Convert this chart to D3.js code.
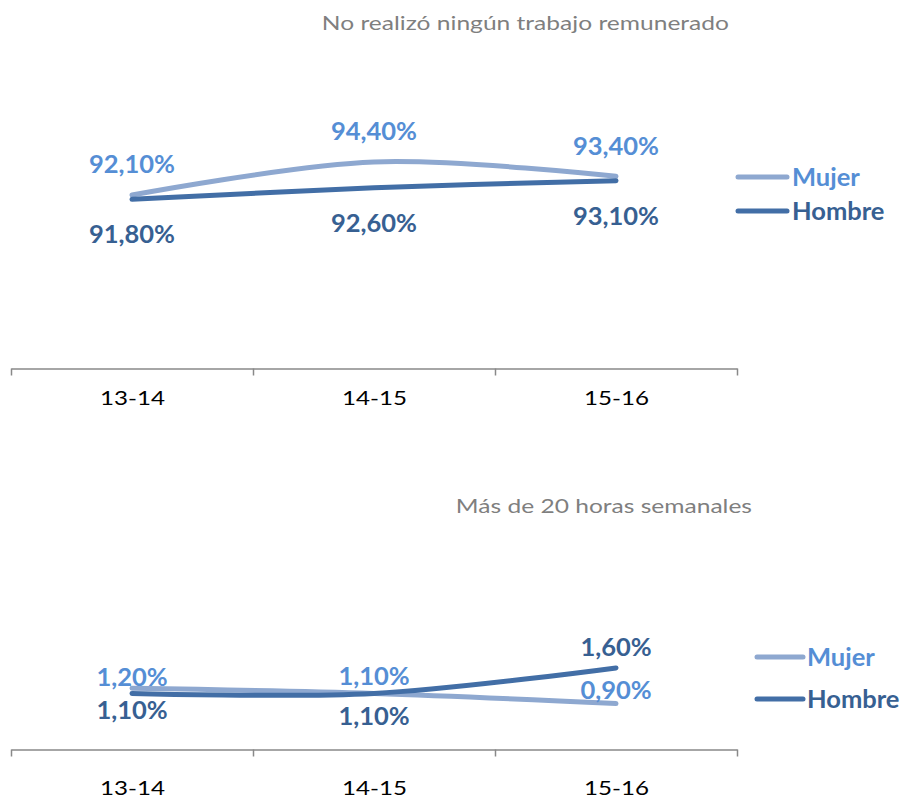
<!DOCTYPE html>
<html>
<head>
    <meta charset="utf-8">
    <title></title>
    <script src="https://d3js.org/d3.v7.min.js"></script>
    <style>
        body { margin: 0; background: #fff; }
        text { font-family: Lato, "Open Sans", sans-serif; }
    </style>
</head>
<body>
    <svg id="chart" width="903" height="798"></svg>

    <script>
    // data
    let categories = ["13-14", "14-15", "15-16"];
    let seriesNames = ["Mujer", "Hombre"];
    let titles = ["No realizó ningún trabajo remunerado", "Más de 20 horas semanales"];
    let noTrabajoMujer = [92.1, 94.4, 93.4];
    let noTrabajoHombre = [91.8, 92.6, 93.1];
    let mas20Mujer = [1.2, 1.1, 0.9];
    let mas20Hombre = [1.1, 1.1, 1.6];

    let colLine = { Mujer: "#8ea8d0", Hombre: "#426ea6" };
    let colText = { Mujer: "#558ed5", Hombre: "#376092" };

    let es = d3.formatLocale({ decimal: ",", thousands: ".", grouping: [3], currency: ["", "€"] });
    let fmt = v => es.format(".2f")(v) + "%";

    let svg = d3.select("#chart");
    svg.append("rect").attr("width", 903).attr("height", 798).attr("fill", "#fff");

    // layout of each panel (label offsets follow the hand-placed labels)
    let panels = [
        { title: titles[0], series: [noTrabajoMujer, noTrabajoHombre],
          domain: [80, 100], range: [368.5, 81.7],
          titleX: 729, titleY: 30, catY: 405,
          legX: [738, 787, 792], legY: [177, 211],
          dy: [[-31, -31, -31], [35, 35, 35]] },
        { title: titles[1], series: [mas20Mujer, mas20Hombre],
          domain: [0, 2], range: [749.5, 647.5],
          titleX: 752, titleY: 513, catY: 795,
          legX: [757, 803, 807], legY: [657, 699],
          dy: [[-11, -18, -14], [16, 22, -21]] }
    ];

    let x = d3.scaleLinear().domain([0, categories.length]).range([11, 737]);

    panels.forEach(p => {
        let y = d3.scaleLinear().domain(p.domain).range(p.range);
        let g = svg.append("g");

        // title
        g.append("text")
            .attr("transform", "translate(" + p.titleX + "," + p.titleY + ") scale(1.26,1)")
            .attr("text-anchor", "end")
            .attr("font-size", 19.5)
            .attr("fill", "#7f7f7f")
            .text(p.title);

        // category axis: ticks on the boundaries
        let ax = g.append("g")
            .attr("transform", "translate(0," + y(p.domain[0]) + ")")
            .call(d3.axisBottom(x).tickValues(d3.range(categories.length + 1))
                .tickFormat("").tickSize(7).tickSizeOuter(0));
        ax.selectAll("path, line").attr("stroke", "#898989").attr("stroke-width", 1.5);

        let lab = g.append("g")
            .attr("transform", "translate(0," + y(p.domain[0]) + ")")
            .call(d3.axisBottom(x).tickValues(categories.map((c, i) => i + 0.5))
                .tickFormat(i => categories[Math.floor(i)]).tickSize(0));
        lab.select(".domain").remove();
        lab.selectAll("text")
            .attr("y", p.catY - y(p.domain[0])).attr("dy", 0)
            .attr("transform", "scale(1.24,1)")
            .attr("font-family", "Lato, sans-serif")
            .attr("font-size", 19.5).attr("fill", "#000");

        let line = d3.line()
            .x((d, i) => x(i + 0.5))
            .y(d => y(d))
            .curve(d3.curveCatmullRom.alpha(0));

        p.series.forEach((vals, s) => {
            let name = seriesNames[s];
            g.append("path").datum(vals)
                .attr("d", line)
                .attr("fill", "none")
                .attr("stroke", colLine[name])
                .attr("stroke-width", 5)
                .attr("stroke-linecap", "round");
        });

        p.series.forEach((vals, s) => {
            let name = seriesNames[s];
            g.selectAll(".lbl" + s).data(vals).join("text")
                .attr("x", (d, i) => x(i + 0.5))
                .attr("y", (d, i) => y(d) + p.dy[s][i])
                .attr("dy", "0.36em")
                .attr("text-anchor", "middle")
                .attr("font-size", 25.5)
                .attr("font-weight", "bold")
                .attr("fill", colText[name])
                .text(fmt);

            // legend
            g.append("line")
                .attr("x1", p.legX[0]).attr("x2", p.legX[1])
                .attr("y1", p.legY[s]).attr("y2", p.legY[s])
                .attr("stroke", colLine[name]).attr("stroke-width", 5)
                .attr("stroke-linecap", "round");
            g.append("text")
                .attr("x", p.legX[2]).attr("y", p.legY[s]).attr("dy", "0.36em")
                .attr("font-size", 25.5).attr("font-weight", "bold")
                .attr("fill", colText[name])
                .text(name);
        });
    });
    </script>
</body>
</html>
